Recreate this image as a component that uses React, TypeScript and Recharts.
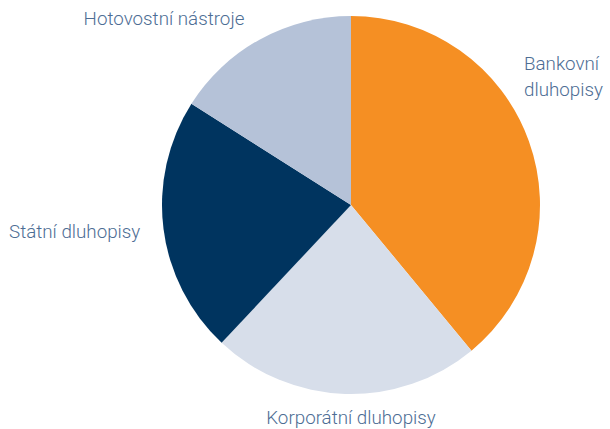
import React from "react";
import { PieChart, Pie, Cell } from "recharts";

const categories = ["Bankovní dluhopisy", "Korporátní dluhopisy", "Státní dluhopisy", "Hotovostní nástroje"];
const values = [39, 23, 22, 16];
const colors = ["#F58F23", "#D7DEEA", "#00345F", "#B5C2D8"];

// label placement relative to pie centre (lines, anchor)
const labelPlacement = [
  { dx: 173, dy: -141, anchor: "start", lines: ["Bankovní", "dluhopisy"] },
  { dx: 0, dy: 213, anchor: "middle", lines: ["Korporátní dluhopisy"] },
  { dx: -342, dy: 27, anchor: "start", lines: ["Státní dluhopisy"] },
  { dx: -187, dy: -186, anchor: "middle", lines: ["Hotovostní nástroje"] },
];

const data = categories.map((name, i) => ({ name, value: values[i] }));

const renderLabel = (props: any) => {
  const { cx, cy, index } = props;
  const p = labelPlacement[index];
  return (
    <text
      x={cx + p.dx}
      y={cy + p.dy}
      textAnchor={p.anchor}
      dominantBaseline="central"
      fill="#4D6D94"
      fontFamily="Roboto, 'Liberation Sans', sans-serif"
      fontWeight={300}
      fontSize={18.8}
    >
      {p.lines.map((l: string, k: number) => (
        <tspan key={k} x={cx + p.dx} dy={k === 0 ? 0 : 26}>
          {l}
        </tspan>
      ))}
    </text>
  );
};

export default function App() {
  return (
    <div style={{ position: "absolute", left: 0, top: 0, background: "#fff" }}>
      <PieChart width={610} height={429} margin={{ top: 0, right: 0, bottom: 0, left: 0 }}>
        <Pie
          data={data}
          dataKey="value"
          nameKey="name"
          cx={351}
          cy={205}
          outerRadius={189}
          startAngle={90}
          endAngle={-270}
          stroke="none"
          label={renderLabel}
          labelLine={false}
          isAnimationActive={false}
        >
          {data.map((d, i) => (
            <Cell key={d.name} fill={colors[i]} />
          ))}
        </Pie>
      </PieChart>
    </div>
  );
}
